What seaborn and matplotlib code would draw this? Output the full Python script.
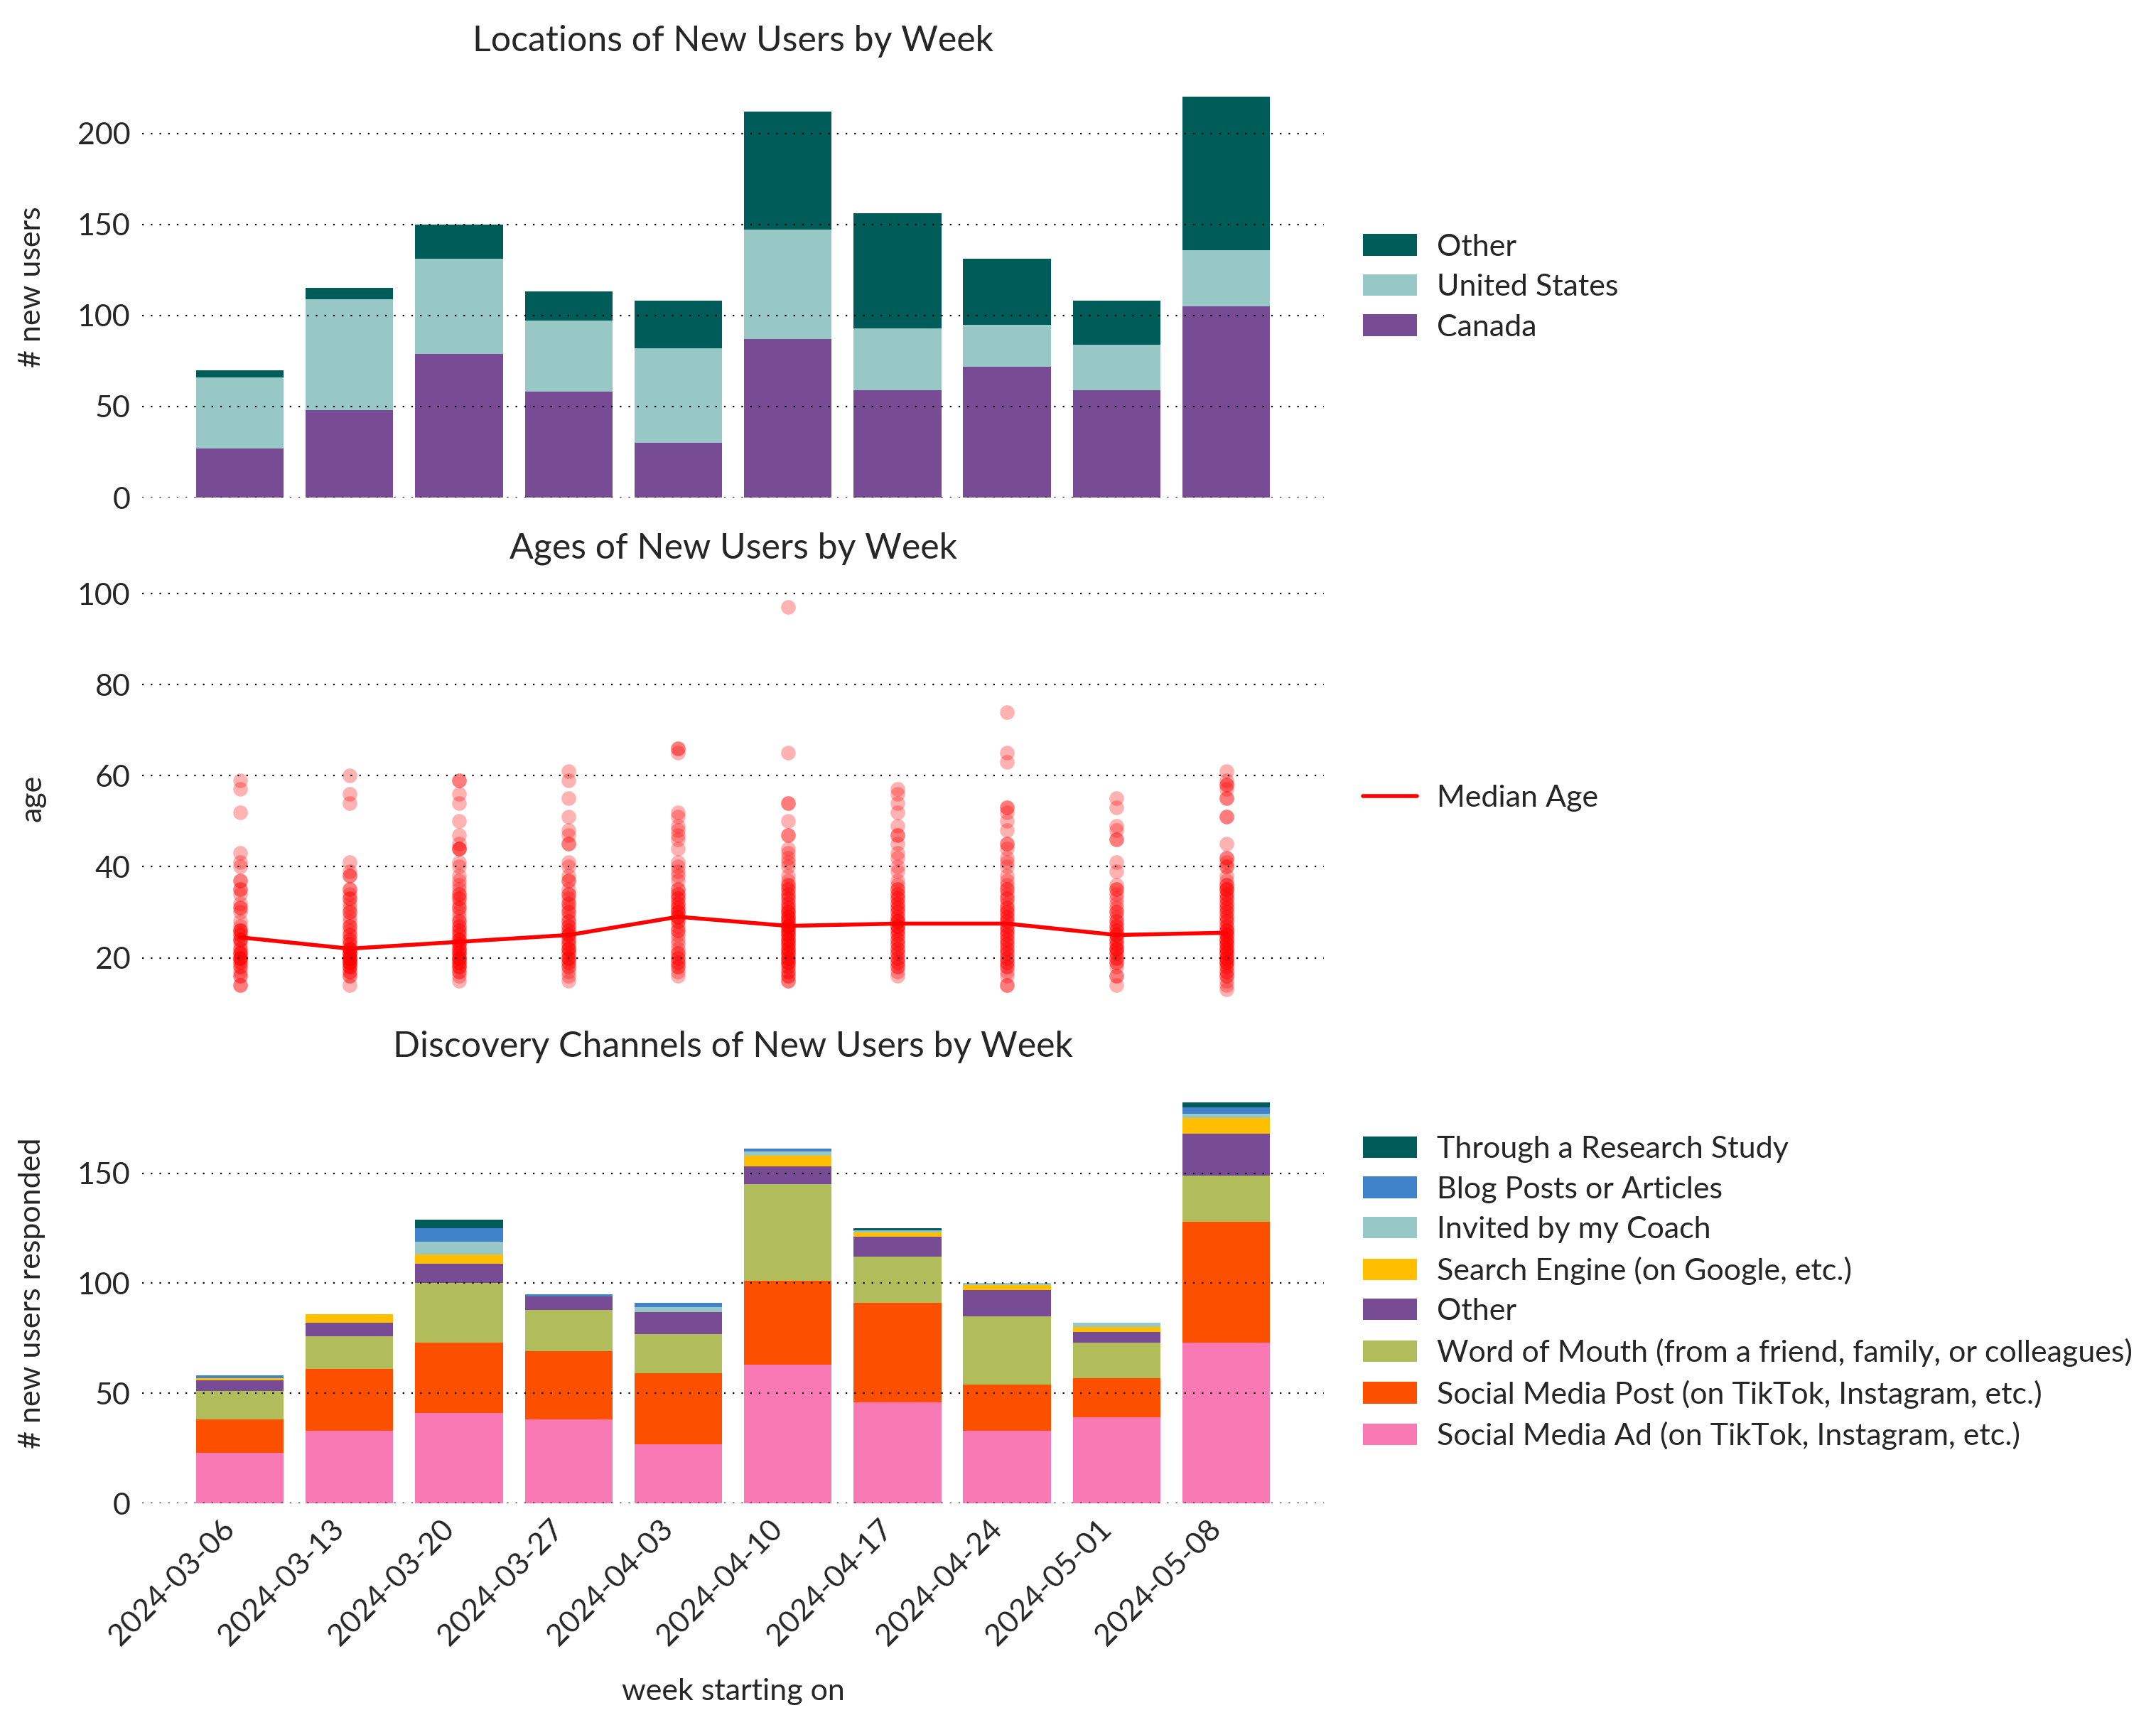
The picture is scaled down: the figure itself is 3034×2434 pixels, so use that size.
import numpy as np
import pandas as pd
import matplotlib
matplotlib.use('Agg')
import matplotlib.pyplot as plt
import seaborn as sns

# weeks (x categories)
weeks = ['2024-03-06', '2024-03-13', '2024-03-20', '2024-03-27', '2024-04-03',
         '2024-04-10', '2024-04-17', '2024-04-24', '2024-05-01', '2024-05-08']

# locations of new users
canada = [27, 48, 79, 58, 30, 87, 59, 72, 59, 105]
united_states = [39, 61, 52, 39, 52, 60, 34, 23, 25, 31]
other_location = [4, 6, 19, 16, 26, 65, 63, 36, 24, 84]

# ages of new users, one list per week
ages_w1 = [59, 57, 52, 43, 41, 40, 37, 37, 35, 35, 34, 32, 31, 31, 30, 28, 27, 26, 26, 26, 25, 25, 24, 24,
           24, 23, 22, 22, 21, 21, 21, 20, 20, 20, 20, 19, 19, 18, 18, 17, 16, 16, 14, 14]
ages_w2 = [60, 56, 54, 41, 39, 38, 38, 35, 35, 34, 33, 33, 32, 31, 30, 30, 29, 28, 27, 27, 26, 25, 25, 24,
           24, 23, 23, 22, 22, 22, 22, 21, 21, 21, 21, 20, 20, 20, 20, 20, 19, 19, 19, 19, 18, 18, 18, 17,
           17, 16, 16, 14]
ages_w3 = [59, 59, 56, 54, 50, 47, 45, 44, 44, 44, 41, 40, 38, 37, 36, 35, 34, 34, 33, 33, 32, 31, 31, 30,
           29, 28, 28, 27, 27, 26, 26, 25, 25, 24, 24, 24, 23, 23, 23, 22, 22, 22, 21, 21, 21, 20, 20, 20,
           20, 19, 19, 19, 18, 18, 18, 17, 17, 16, 15]
ages_w4 = [61, 59, 55, 51, 48, 47, 45, 45, 41, 40, 38, 37, 37, 35, 34, 34, 33, 32, 32, 31, 30, 30, 29, 28,
           28, 27, 27, 26, 26, 25, 25, 25, 24, 24, 23, 23, 22, 22, 22, 21, 21, 20, 20, 20, 19, 19, 18, 18,
           17, 16, 15]
ages_w5 = [66, 66, 65, 52, 51, 49, 48, 47, 46, 44, 41, 40, 39, 38, 37, 35, 35, 34, 34, 33, 33, 32, 32, 31,
           31, 30, 30, 30, 29, 29, 29, 28, 28, 27, 26, 26, 25, 24, 23, 22, 21, 21, 20, 20, 19, 19, 18, 18,
           17, 16]
ages_w6 = [97, 65, 54, 54, 50, 47, 47, 44, 43, 42, 41, 40, 38, 37, 36, 36, 35, 35, 34, 34, 33, 33, 32, 32,
           31, 31, 30, 30, 30, 29, 29, 29, 28, 28, 28, 27, 27, 27, 27, 26, 26, 26, 25, 25, 25, 24, 24, 24,
           23, 23, 23, 22, 22, 22, 21, 21, 21, 20, 20, 20, 19, 19, 19, 18, 18, 17, 17, 16, 16, 15, 15]
ages_w7 = [57, 56, 54, 52, 49, 47, 47, 45, 43, 42, 40, 39, 37, 36, 35, 35, 34, 34, 33, 33, 32, 32, 31, 31,
           30, 30, 29, 29, 28, 28, 28, 27, 27, 27, 26, 26, 25, 25, 24, 24, 23, 23, 22, 22, 21, 21, 20, 20,
           19, 19, 18, 18, 17, 16]
ages_w8 = [74, 65, 63, 53, 53, 52, 50, 48, 45, 45, 44, 42, 41, 40, 38, 37, 36, 35, 35, 34, 33, 33, 32, 31,
           31, 30, 30, 29, 29, 28, 28, 27, 27, 26, 26, 25, 25, 24, 24, 23, 23, 22, 22, 21, 21, 20, 20, 19,
           19, 18, 18, 17, 16, 14, 14]
ages_w9 = [55, 53, 49, 48, 46, 46, 41, 39, 36, 35, 35, 34, 33, 32, 31, 30, 30, 29, 28, 28, 27, 27, 26, 26,
           25, 25, 25, 24, 24, 23, 23, 22, 22, 22, 21, 21, 20, 20, 19, 19, 18, 16, 16, 14]
ages_w10 = [61, 59, 58, 58, 57, 55, 55, 51, 51, 45, 42, 42, 41, 40, 40, 38, 37, 36, 36, 35, 35, 35, 34, 34,
            33, 33, 32, 32, 31, 31, 30, 30, 29, 29, 28, 28, 27, 27, 26, 26, 26, 25, 25, 25, 24, 24, 24, 23,
            23, 23, 22, 22, 22, 21, 21, 21, 20, 20, 20, 19, 19, 19, 18, 18, 17, 17, 16, 16, 15, 14, 13]
median_age = [24.5, 22, 23.5, 25, 29, 27, 27.5, 27.5, 25, 25.5]

# discovery channels
social_media_ad = [23, 33, 41, 38, 27, 63, 46, 33, 39, 73]
social_media_post = [15, 28, 32, 31, 32, 38, 45, 21, 18, 55]
word_of_mouth = [13, 15, 27, 19, 18, 44, 21, 31, 16, 21]
other_channel = [5, 6, 9, 6, 10, 8, 9, 12, 5, 19]
search_engine = [1, 4, 4, 0, 0, 5, 2, 2, 2, 7]
invited_by_coach = [0, 0, 6, 0, 2, 2, 1, 1, 2, 2]
blog_posts = [1, 0, 6, 1, 2, 1, 0, 0, 0, 3]
research_study = [0, 0, 4, 0, 0, 0, 1, 0, 0, 2]

sns.set_style('white')
plt.rcParams['font.family'] = ['Lato', 'DejaVu Sans']
FS = 15.5
TITLE_FS = 18


def stacked_bars(ax, layers, colors, labels):
    # draw cumulative totals from the top layer down so lower layers cover the upper ones
    cum = np.cumsum(np.array(layers), axis=0)
    for i in reversed(range(len(layers))):
        sns.barplot(x=list(range(len(weeks))), y=cum[i], color=colors[i], label=labels[i],
                    saturation=1, width=0.8, linewidth=0, errorbar=None, native_scale=True, ax=ax)


fig, axes = plt.subplots(3, 1, figsize=(15.17, 12.17), dpi=200, sharex=True)
axes[0].set_position([0.066, 0.7124, 0.548, 0.2432])
axes[1].set_position([0.066, 0.4169, 0.548, 0.2432])
axes[2].set_position([0.066, 0.131, 0.548, 0.2432])

# Locations
stacked_bars(axes[0], [canada, united_states, other_location],
             ['#774C94', '#98C8C6', '#005C59'], ['Canada', 'United States', 'Other'])
axes[0].set_title('Locations of New Users by Week', fontsize=TITLE_FS, pad=13)
axes[0].set_ylabel('# new users', fontsize=FS, labelpad=16)
axes[0].set_yticks([0, 50, 100, 150, 200])

# Ages
age_lists = [ages_w1, ages_w2, ages_w3, ages_w4, ages_w5, ages_w6, ages_w7, ages_w8, ages_w9, ages_w10]
age_df = pd.DataFrame({'week': [i for i, a in enumerate(age_lists) for _ in a],
                       'age': [v for a in age_lists for v in a]})
sns.scatterplot(data=age_df, x='week', y='age', color='red', alpha=0.3, s=55, linewidth=0,
                legend=False, ax=axes[1])
sns.lineplot(x=list(range(len(weeks))), y=median_age, color='red', linewidth=2,
             label='Median Age', ax=axes[1])
axes[1].set_title('Ages of New Users by Week', fontsize=TITLE_FS, pad=15)
axes[1].set_ylabel('age', fontsize=FS, labelpad=16)
axes[1].set_yticks([20, 40, 60, 80, 100])

# Discovery channels
stacked_bars(axes[2],
             [social_media_ad, social_media_post, word_of_mouth, other_channel,
              search_engine, invited_by_coach, blog_posts, research_study],
             ['#F879B4', '#FC5000', '#B0BD5A', '#774C94', '#FFBE00', '#98C8C6', '#4083CB', '#005C59'],
             ['Social Media Ad (on TikTok, Instagram, etc.)',
              'Social Media Post (on TikTok, Instagram, etc.)',
              'Word of Mouth (from a friend, family, or colleagues)',
              'Other', 'Search Engine (on Google, etc.)', 'Invited by my Coach',
              'Blog Posts or Articles', 'Through a Research Study'])
axes[2].set_title('Discovery Channels of New Users by Week', fontsize=TITLE_FS, pad=13)
axes[2].set_ylabel('# new users responded', fontsize=FS, labelpad=16)
axes[2].set_yticks([0, 50, 100, 150])
axes[2].set_xlabel('week starting on', fontsize=FS, labelpad=14)

for ax in axes:
    sns.despine(ax=ax, left=True, bottom=True)
    ax.set_axisbelow(False)
    ax.yaxis.grid(True, color='black', linestyle=(0, (1, 4.5)), linewidth=0.8)
    ax.xaxis.grid(False)
    ax.tick_params(length=0, pad=6, labelsize=FS)
    ax.legend(loc='center left', bbox_to_anchor=(1.01, 0.5), frameon=False, fontsize=FS,
              labelspacing=0.43, handlelength=1.75, handletextpad=0.65)

axes[0].set_xlim(-0.89, 9.89)
axes[2].set_xticks(range(len(weeks)))
axes[2].set_xticklabels(weeks, rotation=45, ha='right')
axes[0].tick_params(labelbottom=False)
axes[1].tick_params(labelbottom=False)
axes[0].set_xlabel('')
axes[1].set_xlabel('')

fig.savefig('out.png', dpi=200)
